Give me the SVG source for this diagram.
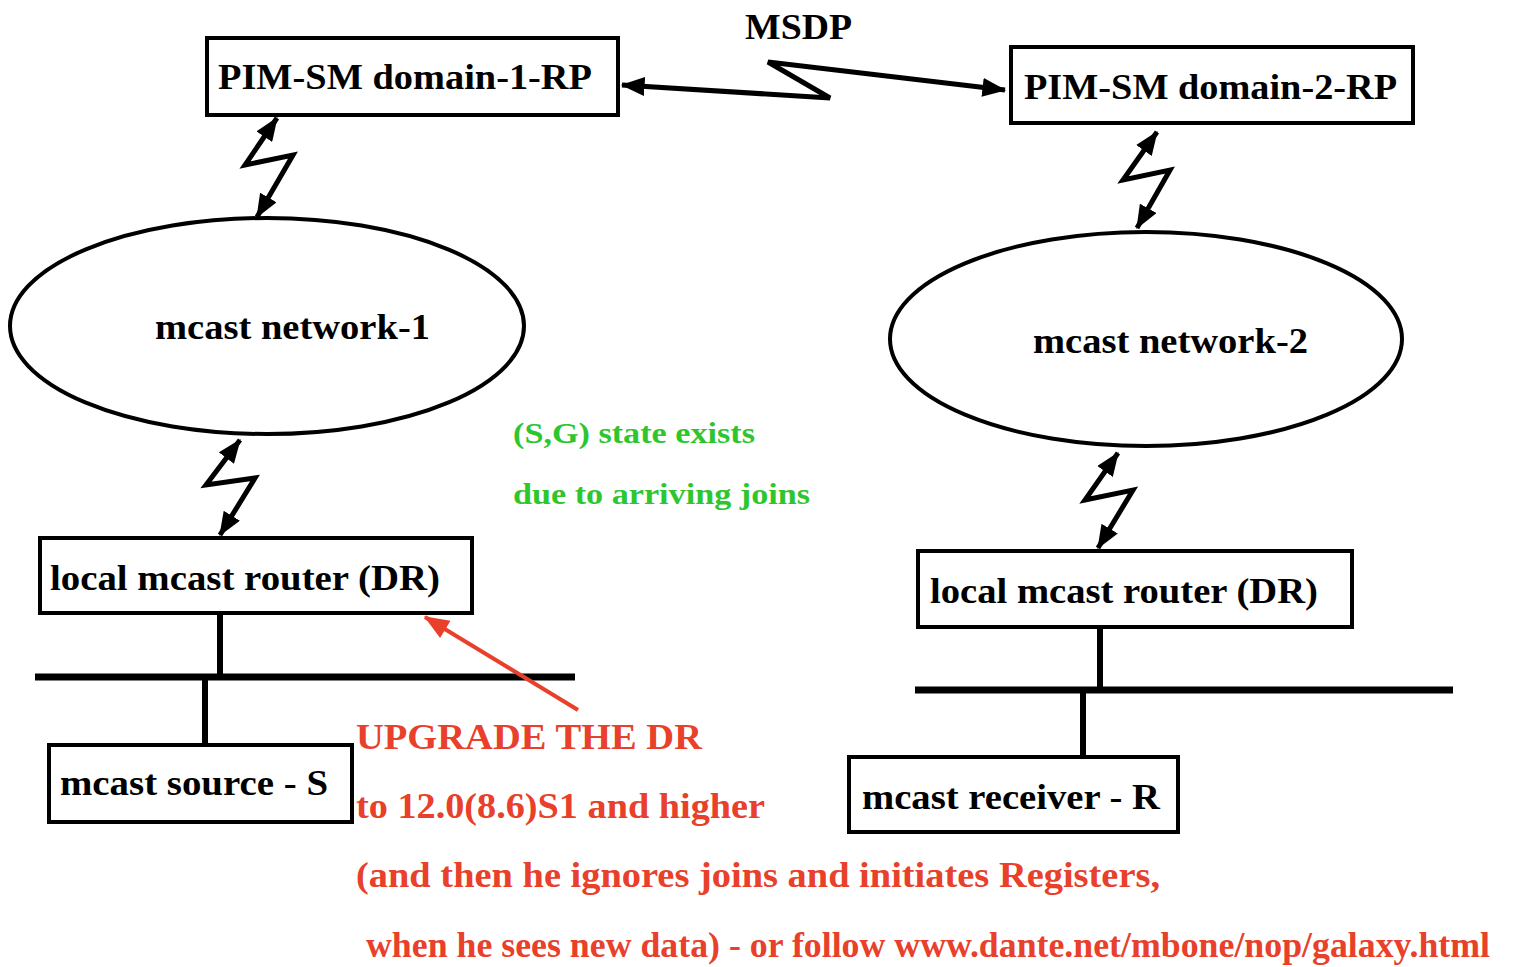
<svg xmlns="http://www.w3.org/2000/svg" width="1513" height="967" viewBox="0 0 1513 967">
<defs>
<marker id="ah" viewBox="0 0 20 16" refX="19" refY="8" markerWidth="24" markerHeight="19" markerUnits="userSpaceOnUse" orient="auto-start-reverse"><path d="M0,0 L20,8 L0,16 Z" fill="#000"/></marker>
<marker id="ahr" viewBox="0 0 20 16" refX="19" refY="8" markerWidth="26" markerHeight="20" markerUnits="userSpaceOnUse" orient="auto"><path d="M0,0 L20,8 L0,16 Z" fill="#e8402a"/></marker>
<style>
.box{fill:#fff;stroke:#000;stroke-width:4}
.ell{fill:#fff;stroke:#000;stroke-width:4}
.t{font-family:"Liberation Serif",serif;font-weight:bold;font-size:35px;fill:#000}
.g{font-family:"Liberation Serif",serif;font-weight:bold;font-size:30px;fill:#2ec62e}
.r{font-family:"Liberation Serif",serif;font-weight:bold;font-size:35px;fill:#e8402a}
.z{fill:none;stroke:#000;stroke-width:5;stroke-linejoin:miter}
.bus{stroke:#000;stroke-width:7;fill:none}
.vl{stroke:#000;stroke-width:6;fill:none}
</style>
</defs>
<rect width="1513" height="967" fill="#fff"/>
<g id="connectors">
<polyline class="z" points="622,85 830,98 768,62 1005,90" marker-start="url(#ah)" marker-end="url(#ah)"/>
<polyline class="z" points="277,118 245,165 293,155 257,217" marker-start="url(#ah)" marker-end="url(#ah)"/>
<polyline class="z" points="240,440 206,485 255,478 220,535" marker-start="url(#ah)" marker-end="url(#ah)"/>
<polyline class="z" points="1157,132 1123,180 1170,170 1137,228" marker-start="url(#ah)" marker-end="url(#ah)"/>
<polyline class="z" points="1118,453 1085,500 1133,490 1098,548" marker-start="url(#ah)" marker-end="url(#ah)"/>
<line class="vl" x1="220" y1="613" x2="220" y2="677"/>
<line class="bus" x1="35" y1="677" x2="575" y2="677"/>
<line class="vl" x1="205" y1="677" x2="205" y2="745"/>
<line class="vl" x1="1100" y1="627" x2="1100" y2="690"/>
<line class="bus" x1="915" y1="690" x2="1453" y2="690"/>
<line class="vl" x1="1083" y1="690" x2="1083" y2="757"/>
<line x1="578" y1="710" x2="425" y2="617" stroke="#e8402a" stroke-width="4" marker-end="url(#ahr)"/>
</g>
<g id="msdp"><text class="t" x="745" y="39" textLength="107" lengthAdjust="spacingAndGlyphs">MSDP</text></g>
<g id="rp1"><rect class="box" x="207" y="38" width="411" height="77"/><text class="t" x="218" y="89" textLength="374" lengthAdjust="spacingAndGlyphs">PIM-SM domain-1-RP</text></g>
<g id="rp2"><rect class="box" x="1011" y="47" width="402" height="76"/><text class="t" x="1024" y="99" textLength="373" lengthAdjust="spacingAndGlyphs">PIM-SM domain-2-RP</text></g>
<g id="net1"><ellipse class="ell" cx="267" cy="326" rx="257" ry="108"/><text class="t" x="155" y="339" textLength="275" lengthAdjust="spacingAndGlyphs">mcast network-1</text></g>
<g id="net2"><ellipse class="ell" cx="1146" cy="339" rx="256" ry="107"/><text class="t" x="1033" y="353" textLength="275" lengthAdjust="spacingAndGlyphs">mcast network-2</text></g>
<g id="dr1"><rect class="box" x="40" y="538" width="432" height="75"/><text class="t" x="50" y="590" textLength="390" lengthAdjust="spacingAndGlyphs">local mcast router (DR)</text></g>
<g id="dr2"><rect class="box" x="918" y="551" width="434" height="76"/><text class="t" x="930" y="603" textLength="388" lengthAdjust="spacingAndGlyphs">local mcast router (DR)</text></g>
<g id="src"><rect class="box" x="49" y="745" width="303" height="77"/><text class="t" x="60" y="795" textLength="268" lengthAdjust="spacingAndGlyphs">mcast source - S</text></g>
<g id="rcv"><rect class="box" x="849" y="757" width="329" height="75"/><text class="t" x="862" y="809" textLength="298" lengthAdjust="spacingAndGlyphs">mcast receiver - R</text></g>
<g id="green">
<text class="g" x="513" y="443" textLength="242" lengthAdjust="spacingAndGlyphs">(S,G) state exists</text>
<text class="g" x="513" y="504" textLength="297" lengthAdjust="spacingAndGlyphs">due to arriving joins</text>
</g>
<g id="red">
<text class="r" x="356" y="749" textLength="346" lengthAdjust="spacingAndGlyphs">UPGRADE THE DR</text>
<text class="r" x="356" y="818" textLength="409" lengthAdjust="spacingAndGlyphs">to 12.0(8.6)S1 and higher</text>
<text class="r" x="356" y="887" textLength="804" lengthAdjust="spacingAndGlyphs">(and then he ignores joins and initiates Registers,</text>
<text class="r" x="366" y="957" textLength="1124" lengthAdjust="spacingAndGlyphs">when he sees new data) - or follow www.dante.net/mbone/nop/galaxy.html</text>
</g>
</svg>
